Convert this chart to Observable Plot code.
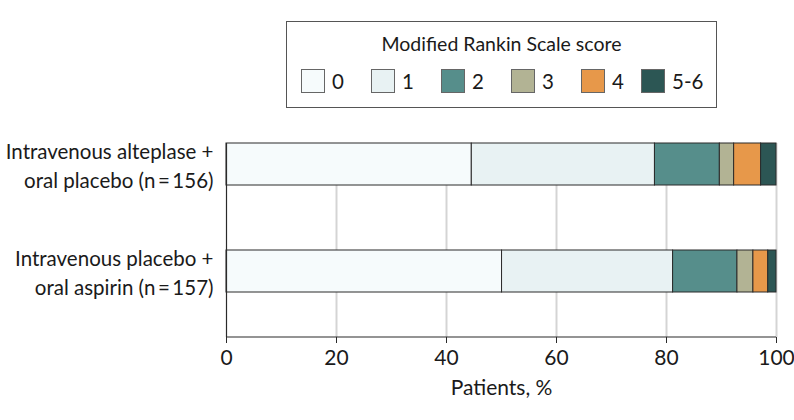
<!DOCTYPE html>
<html>
<head>
<meta charset="utf-8">
<script src="https://cdn.jsdelivr.net/npm/d3@7"></script>
<script src="https://cdn.jsdelivr.net/npm/@observablehq/plot@0.6"></script>
<style>
  body { margin: 0; background: #fff; font-family: Lato, "Open Sans", sans-serif; color: #1a1a1a; }
  #wrap { width: 794px; }
  #legendArea { height: 115px; position: relative; }
  #legend {
    position: absolute; left: 286px; top: 21px; width: 429px; height: 85px;
    border: 1px solid #555; box-sizing: content-box;
  }
  #legend .title { text-align: center; font-size: 19.5px; margin-top: 11px; line-height: 22px; }
  #legend .items { display: flex; align-items: center; margin-top: 14px; margin-left: 14px; }
  #legend .item { display: flex; align-items: center; width: 70px; flex: 0 0 auto; white-space: nowrap; font-size: 20.5px; line-height: 24px; }
  #legend .item:nth-child(5) { width: 60px; }
  #legend .sw { width: 22px; height: 22px; border: 1px solid #666; margin-right: 7px; flex: 0 0 auto; }
</style>
</head>
<body>
<div id="wrap">
  <div id="legendArea"><div id="legend"><div class="title">Modified Rankin Scale score</div><div class="items"></div></div></div>
  <div id="chart"></div>
</div>
<script>
const scores = ["0", "1", "2", "3", "4", "5-6"];
const colors = ["#f6fbfc", "#e8f2f3", "#568e8b", "#b2b394", "#e7984a", "#2c5654"];
const groups = [
  "Intravenous alteplase +\noral placebo (n\u2009=\u2009156)",
  "Intravenous placebo +\noral aspirin (n\u2009=\u2009157)"
];
const alteplasePct = [44.6, 33.3, 11.8, 2.6, 4.9, 2.8];
const aspirinPct = [50.1, 31.1, 11.7, 2.9, 2.7, 1.5];
const xTicks = [0, 20, 40, 60, 80, 100];
const xLabel = "Patients, %";

const seriesByGroup = [alteplasePct, aspirinPct];
const data = [];
groups.forEach((g, gi) => scores.forEach((s, si) => data.push({group: g, score: s, pct: seriesByGroup[gi][si]})));

// legend
const items = d3.select("#legend .items");
scores.forEach((s, i) => {
  const it = items.append("div").attr("class", "item");
  it.append("div").attr("class", "sw").style("background", colors[i]);
  it.append("span").text(s);
});

const plot = Plot.plot({
  width: 794,
  height: 305,
  marginLeft: 226,
  marginRight: 18,
  marginTop: 28,
  marginBottom: 83,
  style: {fontFamily: "Lato, 'Open Sans', sans-serif", color: "#1a1a1a", background: "#fff"},
  x: {domain: [0, 100]},
  y: {domain: groups, paddingInner: 0.607, paddingOuter: 0.21, align: 0},
  color: {domain: scores, range: colors},
  marks: [
    Plot.gridX(xTicks.filter(d => d > 0), {stroke: "#d4d4d4", strokeOpacity: 1, strokeWidth: 2}),
    Plot.barX(data, Plot.stackX({x: "pct", y: "group", fill: "score", order: scores, stroke: "#2a2a2a", strokeWidth: 1})),
    Plot.ruleX([0], {stroke: "#2a2a2a", strokeWidth: 1.2}),
    Plot.axisX({ticks: xTicks, tickSize: 6, tickPadding: 7, fontSize: 21, stroke: "#2a2a2a",
      label: xLabel, labelAnchor: "center", labelArrow: "none", labelOffset: 57}),
    Plot.axisY({tickSize: 0, ticks: [], label: null}),
    Plot.text(groups, {x: 0, y: d => d, text: d => d, textAnchor: "end", dx: -13,
      fontSize: 20.5, lineHeight: 1.38, fill: "#1a1a1a"})
  ]
});

// bottom axis baseline drawn from the plot's own scales
const xs = plot.scale("x"), ys = plot.scale("y");
const yBottom = Math.max(...ys.range);
d3.select(plot).append("line")
  .attr("x1", xs.apply(0)).attr("x2", xs.apply(100))
  .attr("y1", yBottom).attr("y2", yBottom)
  .attr("stroke", "#2a2a2a").attr("stroke-width", 1.2);

document.getElementById("chart").appendChild(plot);
</script>
</body>
</html>
